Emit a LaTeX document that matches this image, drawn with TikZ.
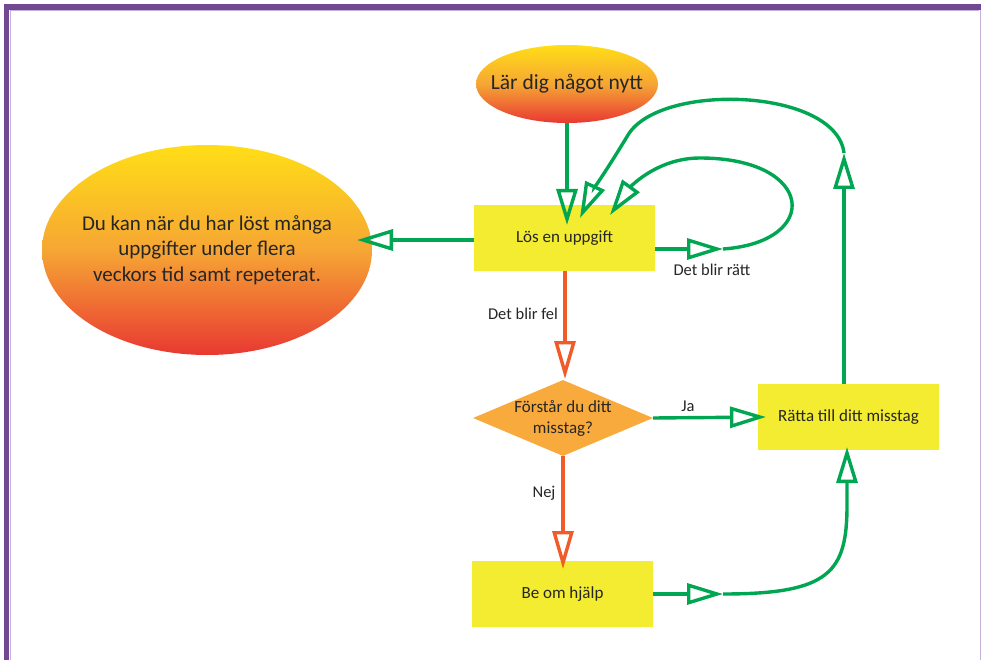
\documentclass[tikz,border=0pt]{standalone}
\usepackage{fontspec}
\setmainfont{Carlito}
\usetikzlibrary{arrows.meta,shapes.geometric}
\definecolor{grn}{RGB}{0,166,81}
\definecolor{redl}{RGB}{241,90,41}
\definecolor{boxy}{RGB}{244,236,48}
\definecolor{diac}{RGB}{248,170,60}
\definecolor{txt}{RGB}{38,38,38}
\definecolor{purp}{RGB}{112,72,148}
\definecolor{lpurp}{RGB}{196,176,216}
\definecolor{ytop}{RGB}{255,222,22}
\definecolor{omid}{RGB}{246,166,52}
\definecolor{rbot}{RGB}{232,56,50}
\begin{document}
\begin{tikzpicture}[x=1pt,y=-1pt,
  boxnode/.style={fill=boxy, minimum width=181pt, minimum height=66pt, inner sep=0pt, text=txt, font=\fontsize{17}{20}\selectfont},
  ell/.style={ellipse, top color=ytop, bottom color=rbot, middle color=omid, inner sep=0pt},
  ntext/.style={text=txt, align=center, inner sep=0pt},
  garr/.style={draw=grn, line width=3.4pt, -{Triangle[open,length=36pt,width=21pt]}},
  rarr/.style={draw=redl, line width=3.4pt, -{Triangle[open,length=38pt,width=21pt]}},
  lbl/.style={text=txt, font=\fontsize{16.5}{19}\selectfont, inner sep=0pt}
]
\useasboundingbox (0,0) rectangle (981,660);
\fill[white] (0,0) rectangle (981,660);
% frame
\draw[lpurp, line width=1pt] (10,660) -- (10,11) -- (979,11);
\draw[lpurp, line width=1.2pt] (980.2,8) -- (980.2,660);
\draw[purp, line width=5.5pt] (6.5,660) -- (6.5,7.2) -- (981,7.2);

% nodes
\node[ell, minimum width=182pt, minimum height=78pt] (lar) at (567,84) {};
\node[ntext, font=\fontsize{21.5}{24}\selectfont] (lart) at (lar.center) {Lär dig något nytt};
\node[boxnode] (los) at (564.5,238) {Lös en uppgift};
\node[ell, minimum width=330pt, minimum height=210pt] (big) at (207,250) {};
\node[ntext, font=\fontsize{21}{25.5}\selectfont] (bigt) at (big.center) {Du kan när du har löst många\\uppgifter under flera\\veckors tid samt repeterat.};
\node[diamond, fill=diac, minimum width=180pt, minimum height=76pt, inner sep=0pt] (q) at (563,418) {};
\node[ntext, font=\fontsize{17}{21}\selectfont] (qt) at (q.center) {Förstår du ditt\\misstag?};
\node[boxnode] (ratta) at (848.5,417) {Rätta till ditt misstag};
\node[boxnode] (help) at (562.5,594) {Be om hjälp};

% coordinates
\coordinate (t1) at (567,225);
\coordinate (s1) at (lar.south -| t1);
\coordinate (t2) at (357,240);
\coordinate (s2) at (los.west |- t2);
\coordinate (c1) at (723,249);
\coordinate (s3) at (los.east |- c1);
\coordinate (t3) at (610,215);
\coordinate (s4) at (565,271);
\coordinate (t4) at (565,379);
\coordinate (t5) at (766,417);
\coordinate (t6) at (563,569);
\coordinate (c3) at (723,594);
\coordinate (s7) at (help.east |- c3);
\coordinate (t7) at (847,447);
\coordinate (c2) at (844,153);
\coordinate (s8) at (844,384);
\coordinate (t8) at (580,218);

% connectors
\draw[garr] (s1) -- (t1);
\draw[garr] (s2) -- (t2);
\draw[garr] (s3) -- (c1);
\draw[garr] (c1) .. controls (822,242) and (815,158) .. (700,158) .. controls (655,158) and (628,190) .. (t3);
\draw[rarr] (s4) -- (t4);
\draw[garr] (q.east) -- (t5);
\draw[rarr] (q.south) -- (t6);
\draw[garr] (s7) -- (c3);
\draw[garr] (c3) .. controls (830,594) and (847,572) .. (847,505) -- (t7);
\draw[garr] (s8) -- (c2);
\draw[garr] (c2) .. controls (836,88) and (660,82) .. (628,135) .. controls (608,168) and (592,192) .. (t8);

% labels
\node[lbl] (l1) at (712,270) {Det blir rätt};
\node[lbl] (l2) at (523,314) {Det blir fel};
\node[lbl] (l3) at (688,406) {Ja};
\node[lbl] (l4) at (544,493) {Nej};
\end{tikzpicture}
\end{document}
